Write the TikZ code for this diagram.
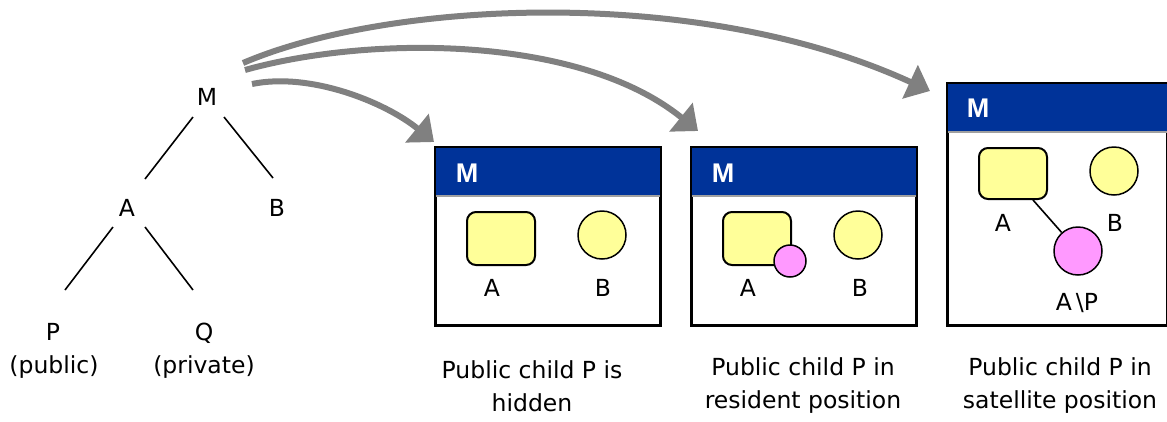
\documentclass[tikz,border=0pt]{standalone}
\usepackage{fontspec}
\setmainfont{DejaVu Sans}
\newfontfamily\hdrfont{Liberation Sans}
\usetikzlibrary{arrows.meta,calc}
\definecolor{hdrblue}{HTML}{003399}
\definecolor{ylw}{HTML}{FFFF99}
\definecolor{pnk}{HTML}{FF99FF}
\definecolor{arrgray}{HTML}{808080}
\definecolor{sepgray}{HTML}{A0A0A0}
\begin{document}
\begin{tikzpicture}[x=1pt,y=-1pt,
  lbl/.style={font=\fontsize{23.5}{28}\selectfont, inner sep=0},
  captxt/.style={font=\fontsize{23.5}{33}\selectfont, inner sep=0, align=center},
  hdrtxt/.style={font=\hdrfont\bfseries\fontsize{27}{30}\selectfont, text=white, inner sep=0},
  tline/.style={line width=1.6pt, black},
  panel/.style={draw=black, line width=2pt, fill=white, minimum width=224pt, minimum height=177pt, inner sep=0, anchor=north west},
  yrect/.style={draw=black, line width=2pt, fill=ylw, rounded corners=9pt, minimum width=68pt, minimum height=53pt, inner sep=0},
  ycirc/.style={circle, draw=black, line width=1.5pt, fill=ylw, minimum size=48pt, inner sep=0},
  pcirc/.style={circle, draw=black, line width=1.5pt, fill=pnk, minimum size=48pt, inner sep=0},
  bigarrow/.style={draw=arrgray, line width=6pt, -{Triangle[length=22pt,width=36pt]}},
]
\useasboundingbox (0,0) rectangle (1167,421);
\clip (0,0) rectangle (1167,421);

% ---------- tree ----------
\node[lbl] (M) at (207,97) {M};
\node[lbl] (A) at (127,208) {A};
\node[lbl] (B) at (277,208) {B};
\node[lbl] (P) at (53,332) {P};
\node[lbl] (Ppub) at (54,367) {(public)};
\node[lbl] (Q) at (204,333) {Q};
\node[lbl] (Qpriv) at (204,367) {(private)};
\draw[tline] ($(M.center)+(-14,20)$) -- ($(A.center)+(18,-29)$);
\draw[tline] ($(M.center)+(17,20)$) -- ($(B.center)+(-4,-30)$);
\draw[tline] ($(A.center)+(-14,19)$) -- ($(P.center)+(12,-42)$);
\draw[tline] ($(A.center)+(18,19)$) -- ($(Q.center)+(-11,-43)$);

% ---------- panel 1 ----------
\node[panel] (b1) at (435,147) {};
\fill[hdrblue] (b1.north west) rectangle ($(b1.north east)+(0,48)$);
\draw[sepgray, line width=2pt] ($(b1.north west)+(0,49)$) -- ($(b1.north east)+(0,49)$);
\draw[line width=2pt] (b1.north west) rectangle (b1.south east);
\node[hdrtxt] (h1) at (467,173) {M};
\node[yrect] (r1) at (501,238.5) {};
\node[ycirc] (c1) at (602,235) {};
\node[lbl] (a1) at (492,288) {A};
\node[lbl] (bb1) at (603,288) {B};

% ---------- panel 2 ----------
\node[panel] (b2) at (691,147) {};
\fill[hdrblue] (b2.north west) rectangle ($(b2.north east)+(0,48)$);
\draw[sepgray, line width=2pt] ($(b2.north west)+(0,49)$) -- ($(b2.north east)+(0,49)$);
\draw[line width=2pt] (b2.north west) rectangle (b2.south east);
\node[hdrtxt] (h2) at (723,173) {M};
\node[yrect] (r2) at (757,238.5) {};
\node[pcirc, minimum size=32pt] (p2) at (790,261) {};
\node[ycirc] (c2) at (858,235) {};
\node[lbl] (a2) at (748,288) {A};
\node[lbl] (bb2) at (860,288) {B};

% ---------- panel 3 ----------
\node[panel, minimum width=219pt, minimum height=241pt] (b3) at (947,83) {};
\fill[hdrblue] (b3.north west) rectangle ($(b3.north east)+(0,48)$);
\draw[sepgray, line width=2pt] ($(b3.north west)+(0,49)$) -- ($(b3.north east)+(0,49)$);
\draw[line width=2pt] (b3.north west) rectangle (b3.south east);
\node[hdrtxt] (h3) at (978,108) {M};
\node[yrect, minimum height=51pt] (r3) at (1013,173.5) {};
\node[ycirc] (c3) at (1114,171) {};
\node[pcirc] (p3) at (1078,251) {};
\draw[tline] ([xshift=20pt]r3.south) -- (p3);
\node[lbl] (a3) at (1003,223) {A};
\node[lbl] (bb3) at (1115,223) {B};
\node[lbl] (ap3) at (1077,303) {A\,\textbackslash P};

% ---------- arrows ----------
\coordinate (s1) at (252,84);
\coordinate (s2) at (245,70);
\coordinate (s3) at (243,63);
\coordinate (t1) at (434,142);
\coordinate (t2) at (698,131);
\coordinate (t3) at (930,91);
\draw[bigarrow] (s1) .. controls (310,72) and (385,102) .. (t1);
\draw[bigarrow] (s2) .. controls (370,35) and (580,35) .. (t2);
\draw[bigarrow] (s3) .. controls (390,0) and (700,-15) .. (t3);

% ---------- captions ----------
\node[captxt] (cap1) at (532,386) {Public child P is\\hidden};
\node[captxt] (cap2) at (803,386) {Public child P in\\resident position};
\node[captxt] (cap3) at (1060,386) {Public child P in\\satellite position};
\end{tikzpicture}
\end{document}
